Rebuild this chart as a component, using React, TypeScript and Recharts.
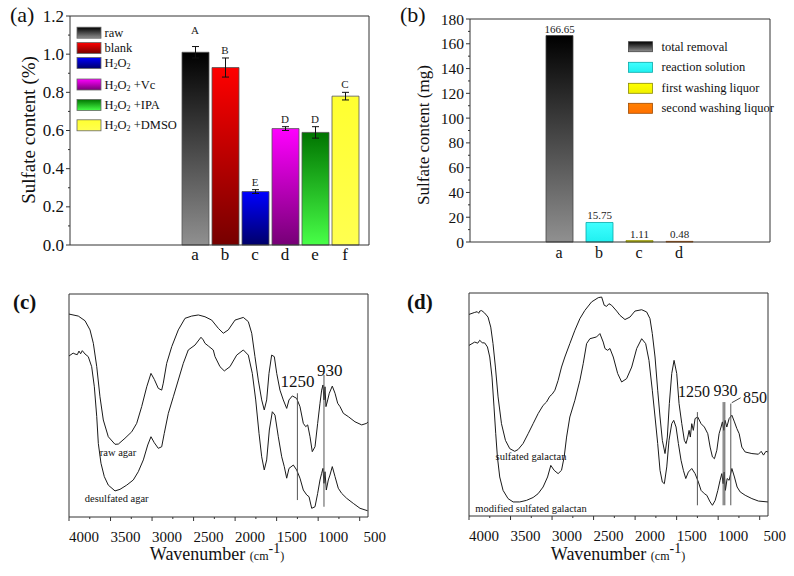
import React from "react";
import {
  BarChart,
  Bar,
  XAxis,
  YAxis,
  Cell,
  ErrorBar,
  ReferenceDot,
  LabelList,
  LineChart,
  Line,
  ReferenceLine,
} from "recharts";

const FONT = '"Liberation Serif", "Times New Roman", Times, serif';
const INK = "#111";

// ---- (a) sulfate content of the samples (%)
const groupsA = ["a", "b", "c", "d", "e", "f"];
const namesA = ["raw", "blank", "H2O2", "H2O2 +Vc", "H2O2 +IPA", "H2O2 +DMSO"];
const sulfateA = [1.01, 0.93, 0.28, 0.61, 0.59, 0.78];
const errA = [0.03, 0.05, 0.01, 0.01, 0.03, 0.02];
const lettersA = ["A", "B", "E", "D", "D", "C"];
const ticksA = [0, 0.1, 0.2, 0.3, 0.4, 0.5, 0.6, 0.7, 0.8, 0.9, 1.0, 1.1, 1.2];

// ---- (b) sulfate removed (mg)
const groupsB = ["a", "b", "c", "d"];
const namesB = ["total removal", "reaction solution", "first washing liquor", "second washing liquor"];
const sulfateB = [166.65, 15.75, 1.11, 0.48];
const ticksB = [0, 10, 20, 30, 40, 50, 60, 70, 80, 90, 100, 110, 120, 130, 140, 150, 160, 170, 180];

// ---- (c)/(d) FTIR spectra, [wavenumber, transmittance (a.u.)]
const wnTicks = [4000, 3750, 3500, 3250, 3000, 2750, 2500, 2250, 2000, 1750, 1500, 1250, 1000, 750, 500];

const rawAgar = [
  [4000, 91.0], [3888, 90.1], [3807, 88.0], [3747, 83.9], [3707, 77.9], [3666, 67.4], [3627, 53.9],
  [3587, 43.5], [3527, 36.0], [3446, 32.6], [3406, 32.7], [3326, 35.3], [3245, 38.2], [3185, 42.0],
  [3125, 49.5], [3064, 58.4], [3013, 64.4], [2973, 61.7], [2925, 57.7], [2884, 56.9], [2865, 60.0],
  [2824, 68.9], [2763, 76.4], [2684, 83.9], [2603, 89.1], [2523, 90.1], [2443, 90.6], [2363, 89.8],
  [2282, 88.3], [2202, 84.6], [2142, 82.4], [2082, 83.9], [2001, 88.3], [1901, 89.5], [1841, 87.6],
  [1800, 82.4], [1761, 71.9], [1721, 61.4], [1680, 52.5], [1649, 48.0], [1620, 52.5], [1592, 64.4],
  [1560, 72.6], [1528, 71.9], [1499, 64.4], [1460, 56.9], [1420, 52.5], [1379, 48.7], [1351, 52.5],
  [1311, 54.3], [1259, 53.2], [1219, 49.5], [1179, 42.0], [1150, 40.5], [1126, 41.3], [1098, 36.0],
  [1071, 29.3], [1038, 31.5], [1006, 42.0], [978, 51.0], [958, 56.9], [942, 59.2], [930, 52.5],
  [918, 58.4], [906, 49.5], [885, 52.5], [866, 55.5], [830, 58.7], [797, 55.5], [765, 51.0],
  [737, 49.5], [697, 46.5], [637, 45.0], [557, 42.7], [476, 41.3], [416, 42.0], [400, 42.7],
];

const desulfatedAgar = [
  [4000, 72.2], [3950, 73.5], [3928, 73.1], [3900, 72.8], [3880, 74.4], [3860, 73.2], [3840, 74.6],
  [3807, 73.1], [3768, 71.9], [3727, 67.4], [3695, 58.4], [3666, 45.0], [3647, 33.0], [3615, 24.1],
  [3575, 18.1], [3527, 14.3], [3446, 11.7], [3386, 12.4], [3305, 14.3], [3226, 16.6], [3166, 20.3],
  [3105, 25.6], [3052, 32.3], [3013, 36.0], [2973, 33.3], [2925, 30.8], [2884, 31.5], [2853, 37.5],
  [2804, 46.5], [2744, 53.9], [2684, 61.4], [2624, 68.9], [2564, 74.9], [2483, 77.1], [2411, 80.6],
  [2383, 79.4], [2363, 77.9], [2323, 76.7], [2263, 74.9], [2242, 71.9], [2182, 67.4], [2130, 65.5],
  [2062, 67.4], [1981, 72.6], [1901, 74.9], [1841, 72.6], [1793, 64.4], [1752, 52.5], [1712, 37.5],
  [1680, 27.0], [1649, 21.1], [1620, 25.6], [1588, 39.0], [1552, 47.2], [1520, 45.7], [1480, 36.0],
  [1439, 27.0], [1408, 22.6], [1379, 17.4], [1351, 21.8], [1299, 23.3], [1259, 21.1], [1219, 17.4],
  [1179, 12.1], [1138, 9.9], [1110, 9.1], [1078, 3.9], [1038, 4.6], [1006, 10.6], [978, 16.6],
  [958, 19.6], [942, 21.8], [930, 15.1], [918, 20.3], [902, 12.1], [878, 16.6], [858, 18.8],
  [830, 22.6], [797, 18.1], [758, 12.9], [717, 10.6], [657, 8.4], [577, 6.1], [496, 3.9], [404, 2.8],
];

const sulfatedGalactan = [
  [4000, 90.4], [3931, 91.3], [3901, 91.6], [3883, 90.9], [3871, 91.9], [3847, 92.1], [3811, 91.0],
  [3771, 89.2], [3738, 84.7], [3711, 77.3], [3682, 66.8], [3650, 53.4], [3609, 41.4], [3561, 33.9],
  [3509, 30.2], [3449, 29.0], [3409, 29.8], [3349, 32.5], [3288, 36.9], [3228, 41.4], [3168, 45.9],
  [3108, 49.6], [3067, 51.1], [3027, 53.7], [2999, 54.6], [2966, 56.4], [2927, 60.8], [2886, 66.8],
  [2846, 71.3], [2786, 77.3], [2725, 83.3], [2665, 88.5], [2605, 92.2], [2524, 96.0], [2444, 97.9],
  [2403, 98.2], [2372, 94.5], [2343, 94.0], [2315, 95.2], [2283, 94.5], [2222, 91.9], [2183, 90.0],
  [2122, 88.1], [2062, 89.2], [2002, 91.9], [1921, 92.5], [1861, 91.5], [1821, 88.5], [1793, 81.8],
  [1760, 71.3], [1728, 56.4], [1700, 44.4], [1672, 33.9], [1640, 28.0], [1612, 35.4], [1588, 50.4],
  [1559, 63.9], [1531, 69.8], [1499, 63.9], [1471, 50.4], [1438, 41.4], [1407, 33.9], [1387, 32.5],
  [1366, 35.4], [1350, 38.4], [1335, 35.4], [1318, 41.4], [1299, 38.4], [1278, 43.7], [1246, 44.4],
  [1206, 41.4], [1166, 39.9], [1125, 36.9], [1097, 30.9], [1069, 26.5], [1045, 25.7], [1016, 29.5],
  [989, 36.9], [965, 39.9], [949, 42.2], [932, 38.4], [917, 42.9], [896, 39.9], [868, 43.7],
  [835, 45.2], [804, 42.2], [775, 39.2], [747, 36.9], [715, 30.9], [675, 28.7], [594, 28.0],
  [515, 27.7], [482, 29.0], [454, 27.3], [425, 29.0], [401, 28.7],
];

const modifiedGalactan = [
  [4000, 76.5], [3931, 78.0], [3895, 77.5], [3871, 78.8], [3841, 77.7], [3811, 77.6], [3778, 75.8],
  [3750, 71.3], [3723, 62.3], [3699, 48.9], [3678, 36.9], [3658, 26.5], [3630, 17.5], [3590, 11.5],
  [3530, 7.8], [3469, 6.3], [3389, 6.3], [3308, 7.0], [3228, 8.3], [3168, 10.0], [3108, 13.0],
  [3054, 17.5], [3015, 22.7], [2975, 20.5], [2927, 19.0], [2886, 20.5], [2854, 26.5], [2825, 35.4],
  [2786, 44.4], [2725, 51.9], [2665, 60.8], [2625, 68.3], [2584, 77.3], [2544, 79.5], [2464, 80.3],
  [2424, 81.8], [2384, 78.0], [2363, 75.1], [2331, 74.3], [2303, 75.1], [2263, 71.3], [2210, 63.9],
  [2162, 60.1], [2102, 61.6], [2041, 66.8], [1981, 75.1], [1921, 79.5], [1873, 77.3], [1833, 69.8],
  [1793, 56.4], [1760, 44.4], [1728, 32.5], [1700, 20.5], [1672, 15.2], [1648, 14.5], [1619, 22.0],
  [1592, 33.9], [1559, 41.4], [1535, 42.9], [1507, 39.9], [1479, 32.5], [1447, 25.0], [1419, 20.5],
  [1390, 16.8], [1359, 19.7], [1318, 21.3], [1278, 19.0], [1238, 15.2], [1206, 11.5], [1166, 10.0],
  [1137, 9.3], [1097, 6.3], [1069, 4.8], [1036, 7.0], [1004, 11.5], [977, 16.0], [956, 19.0],
  [940, 14.5], [928, 19.7], [913, 11.5], [892, 16.8], [868, 16.0], [835, 21.3], [804, 17.5],
  [772, 13.0], [735, 10.8], [675, 9.3], [594, 7.8], [515, 6.7], [401, 6.3],
];

// marked bands: wavenumber, line top and bottom (a.u.)
const marksC = [
  { wn: 1250, top: 55.5, bottom: 7.6 },
  { wn: 930, top: 63.7, bottom: 4.6 },
];
const marksD = [
  { wn: 1250, top: 46.6, bottom: 4.8 },
  { wn: 940, top: 51.1, bottom: 4.8 },
  { wn: 920, top: 51.1, bottom: 4.8 },
  { wn: 848, top: 50.4, bottom: 4.8 },
];

const dataA = groupsA.map((g, i) => ({ g, v: sulfateA[i], err: errA[i] }));
const dataB = groupsB.map((g, i) => ({ g, v: sulfateB[i] }));

// bar fills (top colour -> bottom colour)
const gradA = [
  ["#000000", "#909090"],
  ["#ff0000", "#760000"],
  ["#0000ff", "#00006a"],
  ["#ff00ff", "#760076"],
  ["#007400", "#48ff48"],
  ["#ffff30", "#ffff50"],
];
const gradB = [
  ["#000000", "#909090"],
  ["#40ffff", "#20f0f0"],
  ["#ffff00", "#f0f000"],
  ["#ff8000", "#ff7000"],
];
const strokeB = ["#444", "#08a8a8", "#8a8a00", "#a04a00"];

const gradDefs = (prefix: string, cols: string[][]) =>
  cols.map(([a, b], i) => (
    <linearGradient key={prefix + i} id={prefix + i} x1="0" y1="0" x2="0" y2="1">
      <stop offset="0%" stopColor={a} />
      <stop offset="100%" stopColor={b} />
    </linearGradient>
  ));

const fmtA = (v: number) => {
  const k = Math.round(v * 10);
  return k % 2 === 0 ? (k / 10).toFixed(1) : "";
};
const fmtB = (v: number) => (v % 20 === 0 ? String(v) : "");

const YTick = ({ x, y, payload, fmt, fs }: any) => {
  const label = fmt(payload.value);
  return (
    <g>
      <line x1={x} x2={x - (label ? 4 : 2)} y1={y} y2={y} stroke="#333" />
      {label && (
        <text x={x - 6} y={y} textAnchor="end" dominantBaseline="central" fontSize={fs} fontFamily={FONT} fill={INK}>
          {label}
        </text>
      )}
    </g>
  );
};

const WnTick = ({ x, y, payload }: any) => {
  const v = payload.value;
  const major = v % 500 === 0;
  return (
    <g>
      <line x1={x} x2={x} y1={y} y2={y + (major ? 4 : 2)} stroke="#333" />
      {major && (
        <text x={x + 15} y={y + 25} textAnchor="middle" fontSize={15} fontFamily={FONT} fill={INK}>
          {v}
        </text>
      )}
    </g>
  );
};

const axisLine = { stroke: "#333", strokeWidth: 1 };

const PanelA = () => (
  <BarChart width={400} height={270} data={dataA} margin={{ left: 69, right: 30, top: 15, bottom: 0 }}>
    <defs>{gradDefs("gA", gradA)}</defs>
    <XAxis
      dataKey="g"
      padding={{ left: 110, right: 9 }}
      height={25}
      axisLine={axisLine}
      tickLine={false}
      tickSize={0}
      tickMargin={3}
      tick={{ fontSize: 17, fill: INK, fontFamily: FONT }}
    />
    <XAxis xAxisId="t" dataKey="g" orientation="top" height={1} tick={false} tickLine={false} axisLine={axisLine} />
    <YAxis
      domain={[0, 1.2]}
      ticks={ticksA}
      interval={0}
      width={1}
      axisLine={axisLine}
      tickLine={false}
      tickSize={0}
      tickMargin={0}
      tick={(p: any) => <YTick {...p} fmt={fmtA} fs={17} />}
    />
    <YAxis yAxisId="r" orientation="right" domain={[0, 1.2]} width={1} tick={false} tickLine={false} axisLine={axisLine} />
    <Bar dataKey="v" barSize={27} stroke="#555" strokeWidth={0.8} isAnimationActive={false}>
      {dataA.map((d, i) => (
        <Cell key={d.g} fill={`url(#gA${i})`} />
      ))}
      <ErrorBar dataKey="err" width={3.5} stroke="#111" strokeWidth={1} />
    </Bar>
    {groupsA.map((g, i) => (
      <ReferenceDot
        key={"l" + g}
        x={g}
        y={sulfateA[i] + errA[i]}
        r={0}
        fill="none"
        stroke="none"
        label={{ value: lettersA[i], position: "top", offset: i === 0 ? 13 : 4, fontSize: 11, fill: "#222", fontFamily: FONT }}
      />
    ))}
  </BarChart>
);

const PanelB = () => (
  <BarChart width={394} height={270} data={dataB} margin={{ left: 69, right: 23, top: 18, bottom: 0 }}>
    <defs>{gradDefs("gB", gradB)}</defs>
    <XAxis
      dataKey="g"
      padding={{ left: 69, right: 71 }}
      height={28}
      axisLine={axisLine}
      tickLine={false}
      tickSize={0}
      tickMargin={5}
      tick={{ fontSize: 16, fill: INK, fontFamily: FONT }}
    />
    <XAxis xAxisId="t" dataKey="g" orientation="top" height={1} tick={false} tickLine={false} axisLine={axisLine} />
    <YAxis
      domain={[0, 180]}
      ticks={ticksB}
      interval={0}
      width={1}
      axisLine={axisLine}
      tickLine={false}
      tickSize={0}
      tickMargin={0}
      tick={(p: any) => <YTick {...p} fmt={fmtB} fs={15.5} />}
    />
    <YAxis yAxisId="r" orientation="right" domain={[0, 180]} width={1} tick={false} tickLine={false} axisLine={axisLine} />
    <Bar dataKey="v" barSize={27} strokeWidth={0.8} isAnimationActive={false}>
      {dataB.map((d, i) => (
        <Cell key={d.g} fill={`url(#gB${i})`} stroke={strokeB[i]} />
      ))}
      <LabelList dataKey="v" position="top" offset={3} fontSize={11} fill="#222" fontFamily={FONT} />
    </Bar>
  </BarChart>
);

const Spectrum = ({ width, margin, upper, lower, marks, arrow }: any) => (
  <LineChart width={width} height={306} margin={margin}>
    <XAxis
      dataKey="w"
      type="number"
      domain={[400, 4000]}
      reversed
      allowDataOverflow
      ticks={wnTicks}
      interval={0}
      height={margin.bottomAxis}
      axisLine={axisLine}
      tickLine={false}
      tickSize={0}
      tickMargin={0}
      tick={(p: any) => <WnTick {...p} />}
    />
    <XAxis xAxisId="t" type="number" domain={[400, 4000]} reversed orientation="top" height={1} tick={false} tickLine={false} axisLine={axisLine} />
    <YAxis domain={[0, 100]} width={1} tick={false} tickLine={false} axisLine={axisLine} />
    <YAxis yAxisId="r" orientation="right" domain={[0, 100]} width={1} tick={false} tickLine={false} axisLine={axisLine} />
    <Line data={upper.map(([w, t]: number[]) => ({ w, t }))} dataKey="t" type="linear" stroke="#1a1a1a" strokeWidth={1} dot={false} isAnimationActive={false} />
    <Line data={lower.map(([w, t]: number[]) => ({ w, t }))} dataKey="t" type="linear" stroke="#1a1a1a" strokeWidth={1} dot={false} isAnimationActive={false} />
    {marks.map((m: any) => (
      <ReferenceLine key={m.wn} segment={[{ x: m.wn, y: m.top }, { x: m.wn, y: m.bottom }]} stroke="#555" strokeWidth={1} />
    ))}
    {arrow && <ReferenceLine segment={arrow} stroke="#444" strokeWidth={1} />}
  </LineChart>
);

const H2O2Name = ({ name }: { name: string }) => {
  if (!name.startsWith("H2O2")) return <>{name}</>;
  const rest = name.slice(4);
  return (
    <>
      H<tspan fontSize={8} dy={3}>2</tspan>
      <tspan dy={-3}>O</tspan>
      <tspan fontSize={8} dy={3}>2</tspan>
      {rest && <tspan dy={-3}>{" " + rest.trim()}</tspan>}
    </>
  );
};

const legendYA = [32.7, 48, 63, 84.5, 105, 125.3];
const legendYB = [46.7, 67.3, 88.3, 108.3];

const Overlay = () => (
  <svg width={794} height={576} style={{ position: "absolute", left: 0, top: 0, pointerEvents: "none" }} fontFamily={FONT} fill={INK}>
    <defs>
      {gradDefs("lgA", gradA)}
      {gradDefs("lgB", gradB)}
    </defs>
    {/* panel letters */}
    <text x={10} y={22} fontSize={22}>(a)</text>
    <text x={400} y={22} fontSize={22}>(b)</text>
    <text x={13} y={309} fontSize={21} fontWeight="bold">(c)</text>
    <text x={407} y={309} fontSize={21} fontWeight="bold">(d)</text>

    {/* axis titles */}
    <text transform="translate(28,130) rotate(-90)" textAnchor="middle" dominantBaseline="central" fontSize={19}>
      Sulfate content (%)
    </text>
    <text transform="translate(423,135) rotate(-90)" textAnchor="middle" dominantBaseline="central" fontSize={17}>
      Sulfate content (mg)
    </text>
    {[217, 618].map((cx) => (
      <text key={cx} x={cx} y={560} textAnchor="middle" fontSize={18}>
        Wavenumber <tspan fontSize={12}>(cm</tspan>
        <tspan fontSize={14} dy={-7}>-1</tspan>
        <tspan fontSize={12} dy={7}>)</tspan>
      </text>
    ))}

    {/* legend (a) */}
    {namesA.map((n, i) => (
      <g key={n}>
        <rect x={77} y={legendYA[i] - 5.5} width={24} height={11} fill={`url(#lgA${i})`} stroke="#666" strokeWidth={0.8} />
        <text x={104.5} y={legendYA[i]} dominantBaseline="central" fontSize={12.5}>
          <H2O2Name name={n} />
        </text>
      </g>
    ))}

    {/* legend (b) */}
    {namesB.map((n, i) => (
      <g key={n}>
        <rect x={628.5} y={legendYB[i] - 5} width={24} height={10} fill={`url(#lgB${i})`} stroke={strokeB[i]} strokeWidth={0.8} />
        <text x={661.5} y={legendYB[i]} dominantBaseline="central" fontSize={12.5}>
          {n}
        </text>
      </g>
    ))}

    {/* spectra annotations */}
    <text x={297.5} y={387} textAnchor="middle" fontSize={17}>1250</text>
    <text x={329.7} y={376} textAnchor="middle" fontSize={17}>930</text>
    <text x={118} y={456} textAnchor="middle" fontSize={10.5}>raw agar</text>
    <text x={116.7} y={502} textAnchor="middle" fontSize={10.5}>desulfated agar</text>

    <text x={694} y={397} textAnchor="middle" fontSize={16}>1250</text>
    <text x={725.5} y={396} textAnchor="middle" fontSize={16}>930</text>
    <text x={755} y={403} textAnchor="middle" fontSize={16}>850</text>
    <text x={531} y={460} textAnchor="middle" fontSize={10.5}>sulfated galactan</text>
    <text x={531} y={511.5} textAnchor="middle" fontSize={10.5}>modified sulfated galactan</text>
  </svg>
);

export default function App() {
  return (
    <div style={{ position: "absolute", left: 0, top: 0, width: 794, height: 576, background: "#fff", fontFamily: FONT }}>
      <div style={{ position: "absolute", left: 0, top: 0 }}>
        <PanelA />
      </div>
      <div style={{ position: "absolute", left: 400, top: 0 }}>
        <PanelB />
      </div>
      <div style={{ position: "absolute", left: 0, top: 270 }}>
        <Spectrum
          width={400}
          margin={{ left: 68, right: 31, top: 23, bottom: 0, bottomAxis: 59 }}
          upper={rawAgar}
          lower={desulfatedAgar}
          marks={marksC}
        />
      </div>
      <div style={{ position: "absolute", left: 400, top: 270 }}>
        <Spectrum
          width={394}
          margin={{ left: 68, right: 25, top: 22, bottom: 0, bottomAxis: 60 }}
          upper={sulfatedGalactan}
          lower={modifiedGalactan}
          marks={marksD}
          arrow={[{ x: 836, y: 50.8 }, { x: 730, y: 53.0 }]}
        />
      </div>
      <Overlay />
    </div>
  );
}
